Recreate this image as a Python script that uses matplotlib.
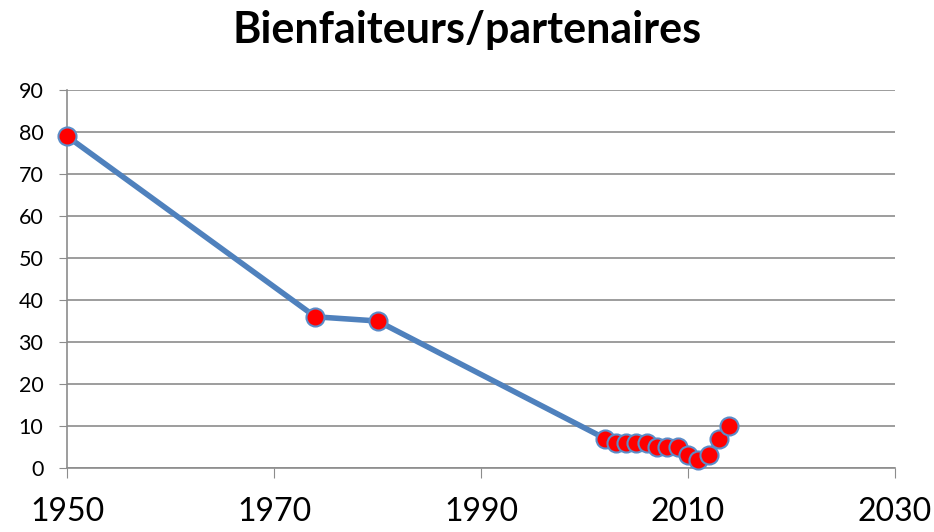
import matplotlib
matplotlib.use("Agg")
import matplotlib.pyplot as plt

years = [1950, 1974, 1980, 2002, 2003, 2004, 2005, 2006, 2007, 2008, 2009, 2010, 2011, 2012, 2013, 2014]
values = [79, 36, 35, 7, 6, 6, 6, 6, 5, 5, 5, 3, 2, 3, 7, 10]
x_ticks = [1950, 1970, 1990, 2010, 2030]
y_ticks = [0, 10, 20, 30, 40, 50, 60, 70, 80, 90]
title = "Bienfaiteurs/partenaires"

plt.rcParams['font.family'] = ['Lato', 'DejaVu Sans']

fig = plt.figure(figsize=(9.34, 5.32), dpi=100)
ax = fig.add_axes([67/934, 1 - 468/532, (895-67)/934, (468-90)/532])

ax.plot(years, values, color='#4F81BD', linewidth=4, marker='o', markersize=13,
        markerfacecolor='#FF0000', markeredgecolor='#5B8CC8', markeredgewidth=1.5, zorder=3, clip_on=False)

ax.set_xlim(1950, 2030)
ax.set_ylim(0, 90)
ax.set_xticks(x_ticks)
ax.set_yticks(y_ticks)
ax.yaxis.grid(True, color='#8C8C8C', linewidth=1.2)
ax.set_axisbelow(True)
for s in ['top', 'right']:
    ax.spines[s].set_visible(False)
for s in ['left', 'bottom']:
    ax.spines[s].set_color('#8C8C8C')
    ax.spines[s].set_linewidth(1.2)
ax.tick_params(axis='x', direction='out', length=7, color='#8C8C8C', labelsize=23, pad=14)
ax.tick_params(axis='y', direction='out', length=6, color='#8C8C8C', labelsize=15.5, pad=11)

fig.text(0.5, 1 - 43/532, title, ha='center', va='baseline', fontsize=31, fontweight='bold')

fig.savefig('out.png', dpi=100)
